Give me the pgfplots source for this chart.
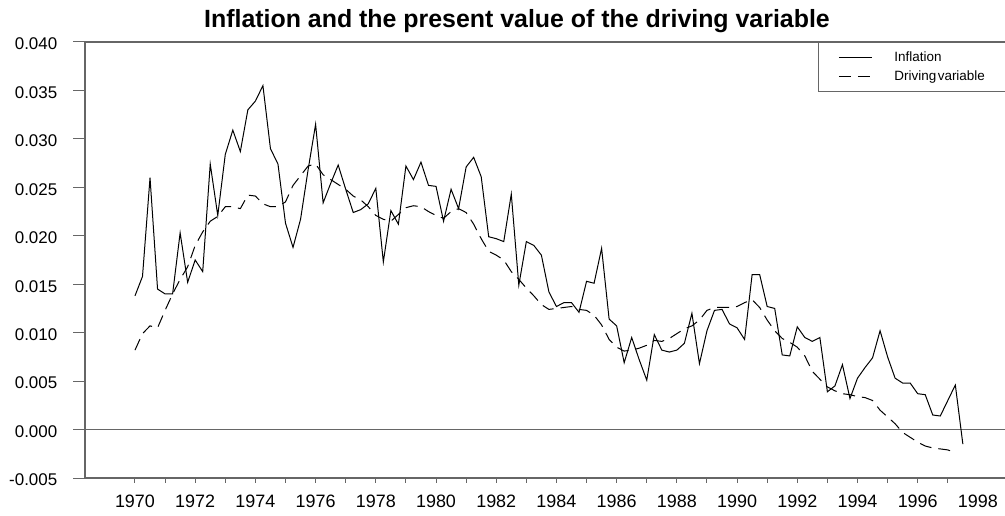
\documentclass[border=0pt]{standalone}
\usepackage{fontspec}
\setmainfont{Liberation Sans}
\usepackage{pgfplots}
\pgfplotsset{compat=1.18}
\usepackage{pgfplotstable}
\definecolor{axgray}{gray}{0.4}
\pgfplotstableread{
year inf drv
1970.00 0.0138 0.0082
1970.25 0.0158 0.0099
1970.50 0.0260 0.0107
1970.75 0.0145 0.0105
1971.00 0.0140 0.0123
1971.25 0.0140 0.0140
1971.50 0.0203 0.0155
1971.75 0.0152 0.0168
1972.00 0.0175 0.0190
1972.25 0.0163 0.0204
1972.50 0.0274 0.0215
1972.75 0.0221 0.0220
1973.00 0.0284 0.0230
1973.25 0.0309 0.0230
1973.50 0.0287 0.0228
1973.75 0.0330 0.0242
1974.00 0.0339 0.0241
1974.25 0.0355 0.0233
1974.50 0.0290 0.0230
1974.75 0.0274 0.0230
1975.00 0.0213 0.0235
1975.25 0.0188 0.0252
1975.50 0.0217 0.0262
1975.75 0.0268 0.0272
1976.00 0.0315 0.0274
1976.25 0.0234 0.0263
1976.50 0.0254 0.0258
1976.75 0.0273 0.0253
1977.00 0.0248 0.0248
1977.25 0.0224 0.0241
1977.50 0.0227 0.0237
1977.75 0.0233 0.0230
1978.00 0.0249 0.0221
1978.25 0.0173 0.0217
1978.50 0.0226 0.0215
1978.75 0.0212 0.0222
1979.00 0.0272 0.0229
1979.25 0.0258 0.0231
1979.50 0.0276 0.0230
1979.75 0.0252 0.0225
1980.00 0.0251 0.0221
1980.25 0.0215 0.0218
1980.50 0.0248 0.0225
1980.75 0.0228 0.0228
1981.00 0.0271 0.0224
1981.25 0.0281 0.0212
1981.50 0.0261 0.0197
1981.75 0.0199 0.0184
1982.00 0.0197 0.0180
1982.25 0.0194 0.0175
1982.50 0.0243 0.0163
1982.75 0.0149 0.0155
1983.00 0.0194 0.0146
1983.25 0.0190 0.0138
1983.50 0.0180 0.0129
1983.75 0.0142 0.0124
1984.00 0.0127 0.0125
1984.25 0.0131 0.0126
1984.50 0.0131 0.0127
1984.75 0.0121 0.0124
1985.00 0.0153 0.0123
1985.25 0.0151 0.0118
1985.50 0.0187 0.0108
1985.75 0.0114 0.0093
1986.00 0.0107 0.0085
1986.25 0.0069 0.0081
1986.50 0.0095 0.0082
1986.75 0.0072 0.0084
1987.00 0.0051 0.0087
1987.25 0.0098 0.0092
1987.50 0.0082 0.0091
1987.75 0.0080 0.0094
1988.00 0.0082 0.0099
1988.25 0.0089 0.0104
1988.50 0.0120 0.0107
1988.75 0.0068 0.0113
1989.00 0.0102 0.0123
1989.25 0.0123 0.0126
1989.50 0.0124 0.0126
1989.75 0.0109 0.0126
1990.00 0.0105 0.0127
1990.25 0.0093 0.0131
1990.50 0.0160 0.0134
1990.75 0.0160 0.0126
1991.00 0.0127 0.0113
1991.25 0.0125 0.0102
1991.50 0.0077 0.0094
1991.75 0.0076 0.0090
1992.00 0.0106 0.0085
1992.25 0.0095 0.0076
1992.50 0.0091 0.0060
1992.75 0.0095 0.0052
1993.00 0.0039 0.0044
1993.25 0.0045 0.0040
1993.50 0.0067 0.0037
1993.75 0.0032 0.0036
1994.00 0.0053 0.0034
1994.25 0.0064 0.0033
1994.50 0.0074 0.0030
1994.75 0.0102 0.0020
1995.00 0.0075 0.0013
1995.25 0.0053 0.0006
1995.50 0.0048 -0.0003
1995.75 0.0048 -0.0008
1996.00 0.0037 -0.0013
1996.25 0.0036 -0.0017
1996.50 0.0015 -0.0019
1996.75 0.0014 -0.0020
1997.00 0.0030 -0.0021
1997.25 0.0046 -0.0024
1997.50 -0.0015 nan
}\datatab
\begin{document}
\begin{tikzpicture}
\useasboundingbox (0,0) rectangle (1005bp,516bp);
\begin{axis}[
  at={(85bp,38bp)}, anchor=south west,
  scale only axis, width=920bp, height=436bp,
  xmin=1968.34, xmax=1998.9, ymin=-0.005, ymax=0.040,
  axis x line*=bottom, axis y line*=left,
  axis line style={draw=axgray, line width=1.2bp},
  tick align=outside,
  tick style={draw=axgray, line width=1bp},
  ytick={-0.005,0,0.005,0.010,0.015,0.020,0.025,0.030,0.035,0.040},
  y tick style={/pgfplots/major tick length=12bp},
  xtick={1970,1972,...,1998},
  x tick style={/pgfplots/major tick length=0pt},
  minor xtick={1970,1971,...,1997},
  minor tick length=5bp,
  extra x ticks={1970.5,1971.5,...,1997.5},
  extra x tick labels={},
  extra x tick style={/pgfplots/major tick length=10bp},
  scaled y ticks=false,
  yticklabel style={/pgf/number format/fixed, /pgf/number format/fixed zerofill,
    /pgf/number format/precision=3, xshift=-20bp, yshift=-2bp, font=\fontsize{17}{20}\selectfont},
  xticklabel style={/pgf/number format/1000 sep={}, yshift=-9bp, font=\fontsize{18}{21}\selectfont},
  /pgf/number format/assume math mode=true,
  legend style={at={(0.7967,1)}, anchor=north west, draw=axgray, line width=1bp,
    font=\fontsize{13.5}{16}\selectfont, inner xsep=20bp, inner ysep=7bp,
    column sep=20bp, row sep=4.5bp},
  legend cell align=left,
  legend image code/.code={\draw[#1] (0bp,0bp) -- (33bp,0bp);},
]
\draw[axgray, line width=1.2bp] (rel axis cs:0,1) -- (rel axis cs:1,1);
\draw[axgray, line width=1bp] (axis cs:1968.34,0) -- (axis cs:1998.9,0);
\addplot[black, line width=1bp] table[x=year, y=inf] {\datatab};
\addlegendentry{Inflation}
\addplot[black, line width=1bp, dash pattern=on 12bp off 7bp] table[x=year, y=drv] {\datatab};
\addlegendentry{Driving\hspace{1.5bp}variable}
\end{axis}
\node[font=\bfseries\fontsize{25}{29}\selectfont, anchor=base] at (517bp,488bp) {Inflation and the present value of the driving variable};
\end{tikzpicture}
\end{document}
